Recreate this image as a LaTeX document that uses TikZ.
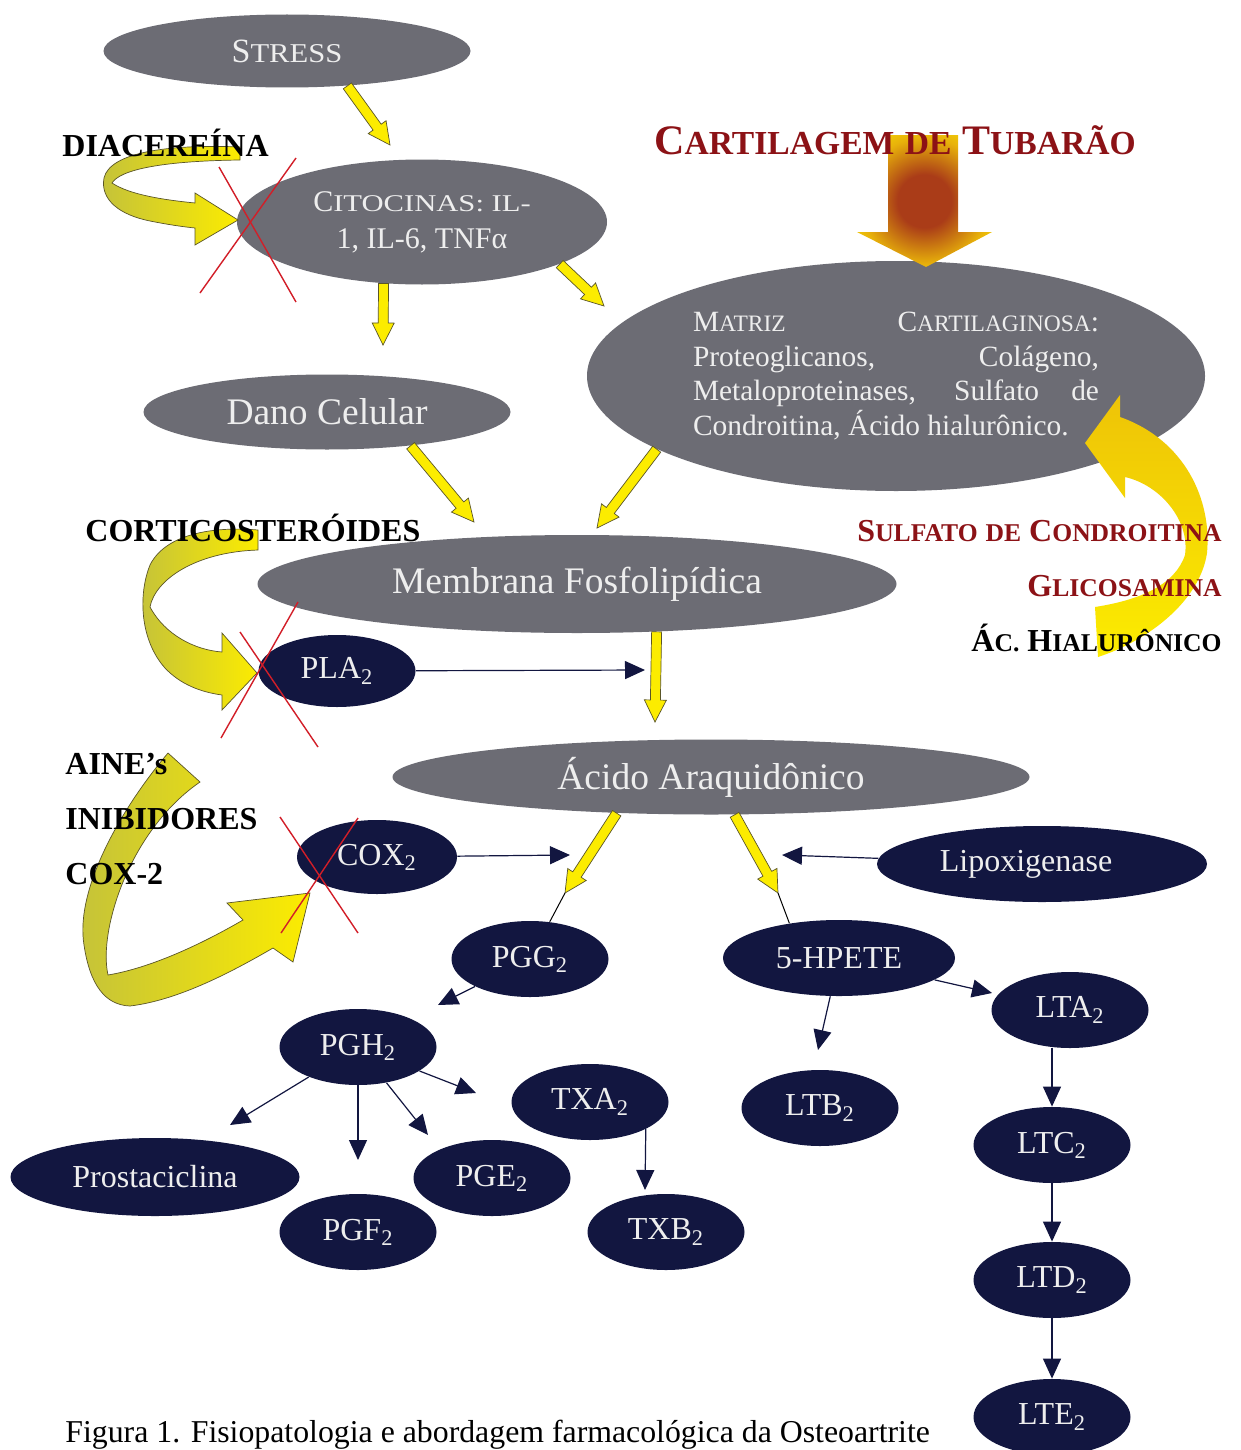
\documentclass[tikz,border=0pt]{standalone}
\usepackage{fontspec}
\setmainfont{Liberation Serif}
\usepackage{graphicx}
\usetikzlibrary{shapes.geometric,arrows.meta,calc}

\definecolor{elgray}{RGB}{108,108,116}
\definecolor{elnavy}{RGB}{18,22,64}
\definecolor{eltext}{RGB}{238,238,238}
\definecolor{darkred}{RGB}{140,18,22}
\definecolor{ribyellow}{RGB}{252,236,0}
\definecolor{ribolive}{RGB}{196,194,58}
\definecolor{riborange}{RGB}{232,178,10}
\definecolor{ribline}{RGB}{90,85,40}
\definecolor{xred}{RGB}{210,30,40}
\definecolor{core}{RGB}{170,60,24}

% fake small caps (bold labels / regular text)
\newcommand{\fsc}[2]{#1\scalebox{0.8}{#2}}
\newcommand{\fscw}[3][0.9]{#2\scalebox{#1}[0.8]{#3}}

\pgfdeclareradialshading{coreshade}{\pgfpoint{0bp}{0bp}}{color(0bp)=(core); color(10bp)=(core); color(24bp)=(riborange); color(36bp)=(ribyellow); color(100bp)=(ribyellow)}

% yellow block arrow from #1 to #2
\newcommand{\yarr}[2]{%
  \path #1 coordinate (ya) #2 coordinate (yb);
  \path ($(yb)!11pt!(ya)$) coordinate (yh);
  \filldraw[yarrow] ($(ya)!2.5pt!90:(yb)$) -- ($(yh)!2.5pt!90:(yb)$) -- ($(yh)!5.5pt!90:(yb)$)
    -- (yb) -- ($(yh)!5.5pt!-90:(yb)$) -- ($(yh)!2.5pt!-90:(yb)$) -- ($(ya)!2.5pt!-90:(yb)$) -- cycle;
}

\tikzset{
  graynode/.style={ellipse, fill=elgray, text=eltext, inner sep=0pt, font=\fontsize{18.75}{22}\selectfont},
  navynode/.style={ellipse, fill=elnavy, text=eltext, inner sep=0pt, minimum width=78.5pt, minimum height=38pt, font=\fontsize{16}{19}\selectfont},
  navyarrow/.style={draw=elnavy, line width=0.6pt, -{Triangle[length=10pt,width=9pt]}},
  yarrow/.style={fill=ribyellow, draw=ribline, line width=0.35pt},
  ribbon/.style={left color=ribolive, right color=ribyellow, draw=ribline, line width=0.35pt},
  redx/.style={draw=xred, line width=0.7pt},
  druglabel/.style={font=\fontsize{16}{19}\selectfont\bfseries, inner sep=0pt},
  redlabel/.style={druglabel, text=darkred},
  thinlink/.style={draw=black, line width=0.5pt}
}

\begin{document}
\begin{tikzpicture}[x=0.5pt,y=-0.5pt]
\fill[white] (0,0) rectangle (1241,1450);
\useasboundingbox (0,0) rectangle (1241,1450);

\node[graynode, minimum width=183.5pt, minimum height=36.5pt, font=\fontsize{17}{20}\selectfont] (stress) at (287,51) {\fscw{S}{TRESS}};
\node[graynode, minimum width=185pt, minimum height=62.5pt, align=center, font=\fontsize{15}{18.5}\selectfont] (cito) at (422,222) {\fscw[1.02]{C}{ITOCINAS: IL-}\\1, IL-6, TNFα};
\node[graynode, minimum width=183.5pt, minimum height=37.5pt] (dano) at (327,412) {Dano Celular};
\node[graynode, minimum width=309pt, minimum height=115pt, text width=203pt, align=justify, font=\fontsize{14.7}{17.25}\selectfont] (matriz) at (896,376)
  {\fsc{M}{ATRIZ} \fsc{C}{ARTILAGINOSA}:\linebreak Proteoglicanos, Colágeno,\linebreak Metaloproteinases, Sulfato de\linebreak Condroitina, Ácido hialurônico.};
\node[graynode, minimum width=319.5pt, minimum height=49pt] (membrana) at (577,584) {Membrana Fosfolipídica};
\node[graynode, minimum width=318.5pt, minimum height=37.5pt] (acido) at (711,777) {Ácido Araquidônico};

\node[navynode, minimum height=36pt] (pla2) at (337,671) {PLA\textsubscript{2}};
\node[navynode, minimum width=80pt, minimum height=37pt] (cox2) at (377,857) {COX\textsubscript{2}};
\node[navynode, minimum width=165pt] (lipox) at (1042,864) {\hspace*{-16pt}Lipoxigenase};
\node[navynode] (pgg2) at (530,959) {PGG\textsubscript{2}};
\node[navynode, minimum width=116pt] (hpete) at (839,958) {5-HPETE};
\node[navynode] (pgh2) at (358,1047) {PGH\textsubscript{2}};
\node[navynode] (lta2) at (1070,1010) {LTA\textsubscript{2}};
\node[navynode] (txa2) at (590,1102) {TXA\textsubscript{2}};
\node[navynode] (ltb2) at (820,1108) {LTB\textsubscript{2}};
\node[navynode, minimum width=144.5pt, minimum height=39pt] (prost) at (155,1177) {Prostaciclina};
\node[navynode] (pge2) at (492,1178) {PGE\textsubscript{2}};
\node[navynode] (ltc2) at (1052,1145) {LTC\textsubscript{2}};
\node[navynode] (pgf2) at (358,1232) {PGF\textsubscript{2}};
\node[navynode] (txb2) at (666,1232) {TXB\textsubscript{2}};
\node[navynode] (ltd2) at (1052,1280) {LTD\textsubscript{2}};
\node[navynode] (lte2) at (1052,1417) {LTE\textsubscript{2}};

% yellow arrows
\coordinate (stresstip) at (390,145);
\coordinate (danotip) at (383,345);
\coordinate (matriztip) at (604,306);
\coordinate (membtipa) at (474,522);
\coordinate (membtipb) at (597,528);
\coordinate (acidotip) at (655,722);
\coordinate (pggtip) at (565,893);
\coordinate (hpetetip) at (778,893);
\yarr{(stress.-30)}{(stresstip)}
\yarr{(cito.-122)}{(danotip)}
\yarr{(cito.-17)}{(matriztip)}
\yarr{(dano.-22)}{(membtipa)}
\yarr{(matriz.197)}{(membtipb)}
\yarr{(membrana.-31.6)}{(acidotip)}
\yarr{(acido.201)}{(pggtip)}
\yarr{(acido.-58)}{(hpetetip)}
\draw[thinlink] (pggtip) -- (pgg2);
\draw[thinlink] (hpetetip) -- (hpete.145);

% navy arrows
\coordinate (plaend) at (645,670);
\coordinate (coxend) at (570,855);
\coordinate (lipend) at (782,855);
\coordinate (pggend) at (438,1005);
\coordinate (prostend) at (230,1125);
\coordinate (pgfend) at (358,1160);
\coordinate (pgeend) at (428,1135);
\coordinate (txaend) at (476,1093);
\coordinate (txbend) at (645,1190);
\coordinate (ltbend) at (818,1050);
\coordinate (ltaend) at (992,993);
\draw[navyarrow] (pla2) -- (plaend);
\draw[navyarrow] (cox2) -- (coxend);
\draw[navyarrow] (lipox) -- (lipend);
\draw[navyarrow] (pgg2) -- (pggend);
\draw[navyarrow] (pgh2) -- (prostend);
\draw[navyarrow] (pgh2) -- (pgfend);
\draw[navyarrow] (pgh2) -- (pgeend);
\draw[navyarrow] (pgh2) -- (txaend);
\draw[navyarrow] (txa2.south east) -- (txbend);
\draw[navyarrow] (hpete) -- (ltbend);
\draw[navyarrow] (hpete) -- (ltaend);
\draw[navyarrow] (lta2.south -| ltc2) -- (ltc2);
\draw[navyarrow] (ltc2) -- (ltd2);
\draw[navyarrow] (ltd2) -- (lte2);

% cartilagem arrow
\shade[shading=coreshade] (888,135) -- (958,135) -- (958,232) -- (992,232) -- (926,267) -- (857,232) -- (888,232) -- cycle;

% ribbons
\shade[ribbon] (240,147) .. controls (170,144) and (110,152) .. (104,178) .. controls (100,200) and (120,215) .. (150,221)
  .. controls (170,225) and (185,227) .. (195,228) -- (195,245) -- (238,220) -- (195,193) -- (195,203)
  .. controls (165,200) and (130,195) .. (112,183) .. controls (120,170) and (160,161) .. (240,160) -- cycle;
\shade[ribbon] (258,530) .. controls (210,526) and (165,535) .. (150,565) .. controls (138,595) and (140,640) .. (165,668)
  .. controls (180,684) and (200,692) .. (222,695) -- (222,710) -- (257,673) -- (222,633) -- (222,652)
  .. controls (195,650) and (165,635) .. (150,607) .. controls (155,580) and (195,552) .. (258,550) -- cycle;
\shade[ribbon] (168,753) .. controls (120,810) and (75,890) .. (84,945) .. controls (90,985) and (105,1005) .. (130,1006)
  .. controls (180,1000) and (235,970) .. (273,948) -- (293,962) -- (310,893) -- (227,903) -- (243,920)
  .. controls (200,945) and (150,968) .. (108,975) .. controls (98,930) and (130,830) .. (200,782) -- cycle;
\shade[top color=riborange!70!ribyellow, bottom color=ribyellow] (1095,607) -- (1098,657) .. controls (1150,640) and (1200,600) .. (1207,553)
  .. controls (1212,500) and (1185,440) .. (1120,417) -- (1120,395) -- (1085,443) -- (1125,498) -- (1125,477)
  .. controls (1160,485) and (1190,520) .. (1185,555) .. controls (1175,585) and (1140,600) .. (1095,607) -- cycle;

% red crosses
\draw[redx] (200,293) -- (296,158);
\draw[redx] (219,167) -- (296,302);
\draw[redx] (221,738) -- (298,602);
\draw[redx] (240,632) -- (318,747);
\draw[redx] (281,933) -- (358,818);
\draw[redx] (280,817) -- (358,933);

% labels
\node[druglabel, anchor=base west] (diacer) at (62,156) {DIACEREÍNA};
\node[druglabel, anchor=base west] (cortic) at (85,541) {CORTICOSTERÓIDES};
\node[druglabel, anchor=base west] (aine) at (65,774) {AINE’s};
\node[druglabel, anchor=base west] (inib) at (65,829) {INIBIDORES};
\node[druglabel, anchor=base west] (coxlabel) at (65,884) {COX-2};
\node[redlabel, anchor=base, font=\fontsize{21}{25}\selectfont\bfseries] (cartil) at (895,155) {\fsc{C}{ARTILAGEM} \scalebox{0.8}{DE} \fsc{T}{UBARÃO}};
\node[redlabel, anchor=base east] (sulfato) at (1222,541) {\fsc{S}{ULFATO} \scalebox{0.8}{DE} \fsc{C}{ONDROITINA}};
\node[redlabel, anchor=base east] (glicos) at (1222,596) {\fsc{G}{LICOSAMINA}};
\node[druglabel, anchor=base east] (achial) at (1222,651) {\fsc{Á}{C.} \fsc{H}{IALURÔNICO}};
\node[anchor=base west, inner sep=0pt, font=\fontsize{15.9}{18}\selectfont] (caption) at (65,1442) {Figura 1. Fisiopatologia e abordagem farmacológica da Osteoartrite};
\end{tikzpicture}
\end{document}
